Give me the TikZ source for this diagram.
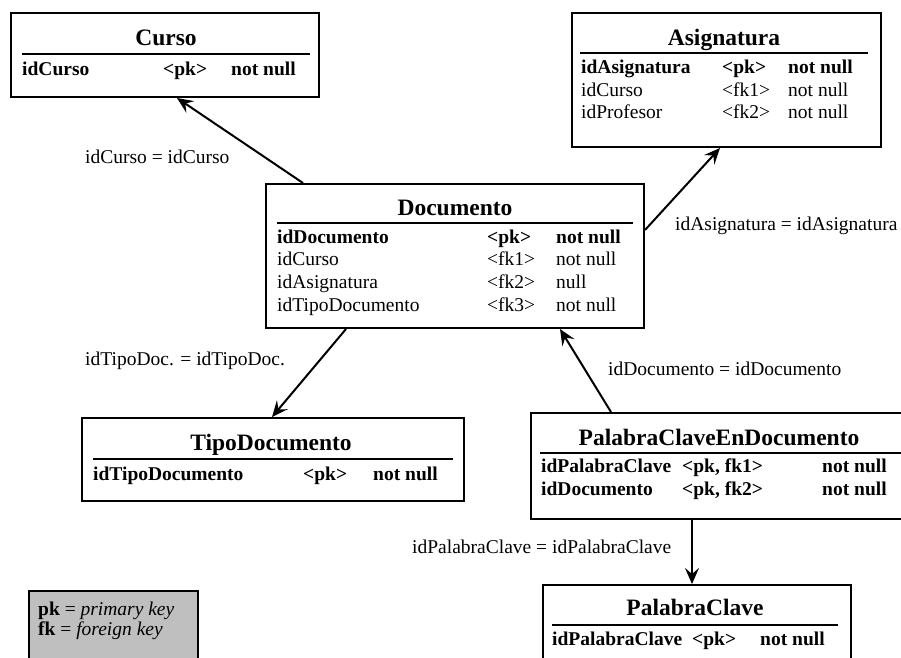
\documentclass[tikz,border=0pt]{standalone}
\usepackage{fontspec}
\setmainfont{Liberation Serif}
\usetikzlibrary{arrows.meta}
\begin{document}
\begin{tikzpicture}[x=1pt,y=-1pt,
  tbl/.style={draw=black, line width=2pt, fill=white, inner sep=0pt, anchor=north west},
  legendbox/.style={tbl, fill=black!25},
  ttl/.style={font=\fontsize{23.5}{23.5}\selectfont\bfseries, anchor=base, inner sep=0pt},
  fld/.style={font=\fontsize{19.5}{19.5}\selectfont, anchor=base west, inner sep=0pt},
  key/.style={font=\fontsize{19.5}{19.5}\selectfont\bfseries, anchor=base west, inner sep=0pt},
  sep/.style={line width=1.6pt},
  rel/.style={-{Stealth[length=16pt,width=14pt,inset=6pt]}, line width=2pt},
  lbl/.style={font=\fontsize{19.5}{19.5}\selectfont, anchor=base west, inner sep=0pt}
]
\useasboundingbox (0,0) rectangle (901,657);
\clip (0,0) rectangle (901,657);

% ---------- tables ----------
\node[tbl, minimum width=308pt, minimum height=84pt]  (curso) at (10,12) {};
\node[tbl, minimum width=309pt, minimum height=134pt] (asig)  at (571,12) {};
\node[tbl, minimum width=378pt, minimum height=144pt] (doc)   at (265,183) {};
\node[tbl, minimum width=382pt, minimum height=83pt]  (tipo)  at (81,417) {};
\node[tbl, minimum width=420pt, minimum height=106pt] (pced)  at (530,412) {};
\node[tbl, minimum width=308pt, minimum height=90pt]  (pc)    at (542,584) {};
\node[legendbox, minimum width=169pt, minimum height=80pt] (leg) at (28,590) {};

% Curso
\node[ttl] (cursoT) at (166,45) {Curso};
\draw[sep] (22,54) -- (310,54);
\node[key] (cursoA1) at (22,75)  {idCurso};
\node[key] (cursoA2) at (163,75) {<pk>};
\node[key] (cursoA3) at (231,75) {not null};

% Asignatura
\node[ttl] (asigT) at (724,45) {Asignatura};
\draw[sep] (580,53) -- (868,53);
\node[key] (asigA1) at (581,73)  {idAsignatura};
\node[key] (asigA2) at (722,73)  {<pk>};
\node[key] (asigA3) at (788,73)  {not null};
\node[fld] (asigB1) at (581,96)  {idCurso};
\node[fld] (asigB2) at (722,96)  {<fk1>};
\node[fld] (asigB3) at (788,96)  {not null};
\node[fld] (asigC1) at (581,118) {idProfesor};
\node[fld] (asigC2) at (722,118) {<fk2>};
\node[fld] (asigC3) at (788,118) {not null};

% Documento
\node[ttl] (docT) at (455,215) {Documento};
\draw[sep] (277,223) -- (633,223);
\node[key] (docA1) at (277,243) {idDocumento};
\node[key] (docA2) at (487,243) {<pk>};
\node[key] (docA3) at (556,243) {not null};
\node[fld] (docB1) at (277,265) {idCurso};
\node[fld] (docB2) at (487,265) {<fk1>};
\node[fld] (docB3) at (556,265) {not null};
\node[fld] (docC1) at (277,288) {idAsignatura};
\node[fld] (docC2) at (487,288) {<fk2>};
\node[fld] (docC3) at (556,288) {null};
\node[fld] (docD1) at (277,311) {idTipoDocumento};
\node[fld] (docD2) at (487,311) {<fk3>};
\node[fld] (docD3) at (556,311) {not null};

% TipoDocumento
\node[ttl] (tipoT) at (271,450) {TipoDocumento};
\draw[sep] (93,459) -- (453,459);
\node[key] (tipoA1) at (93,480)  {idTipoDocumento};
\node[key] (tipoA2) at (303,480) {<pk>};
\node[key] (tipoA3) at (373,480) {not null};

% PalabraClaveEnDocumento
\node[ttl] (pcedT) at (719,445) {PalabraClaveEnDocumento};
\draw[sep] (540,453) -- (905,453);
\node[key] (pcedA1) at (541,472) {idPalabraClave};
\node[key] (pcedA2) at (682,472) {<pk, fk1>};
\node[key] (pcedA3) at (822,472) {not null};
\node[key] (pcedB1) at (541,495) {idDocumento};
\node[key] (pcedB2) at (682,495) {<pk, fk2>};
\node[key] (pcedB3) at (822,495) {not null};

% PalabraClave
\node[ttl] (pcT) at (695,615) {PalabraClave};
\draw[sep] (552,625) -- (838,625);
\node[key] (pcA1) at (552,645) {idPalabraClave};
\node[key] (pcA2) at (692,645) {<pk>};
\node[key] (pcA3) at (760,645) {not null};

% legend
\node[fld] (legA) at (38,615) {\textbf{pk} = \textit{primary key}};
\node[fld] (legB) at (38,635) {\textbf{fk} = \textit{foreign key}};

% ---------- references ----------
\draw[rel] ([xshift=38pt]doc.north west) -- ([xshift=167pt]curso.south west);
\draw[rel] ([yshift=-47pt]doc.north east) -- ([xshift=149pt]asig.south west);
\draw[rel] ([xshift=81pt]doc.south west) -- ([xshift=191pt]tipo.north west);
\draw[rel] ([xshift=81pt]pced.north west) -- ([xshift=295pt]doc.south west);
\draw[rel] ([xshift=162pt]pced.south west) -- ([xshift=150pt]pc.north west);

\node[lbl] (l1) at (85,163)  {idCurso = idCurso};
\node[lbl] (l2) at (675,230) {idAsignatura = idAsignatura};
\node[lbl] (l3) at (85,365)  {idTipoDoc. = idTipoDoc.};
\node[lbl] (l4) at (608,375) {idDocumento = idDocumento};
\node[lbl] (l5) at (412,553) {idPalabraClave = idPalabraClave};
\end{tikzpicture}
\end{document}
